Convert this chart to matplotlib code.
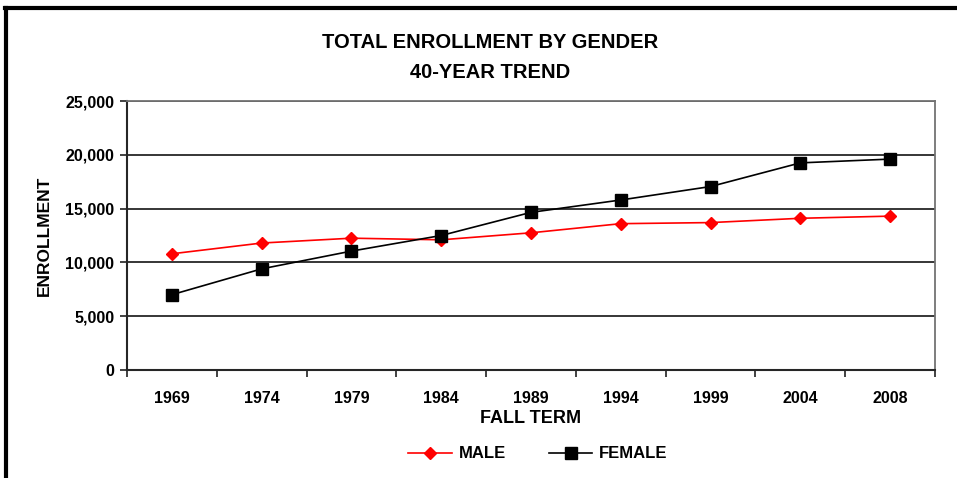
import matplotlib
matplotlib.use("Agg")
import matplotlib.pyplot as plt
from matplotlib.lines import Line2D

plt.rcParams["font.family"] = ["Liberation Sans", "DejaVu Sans"]
plt.rcParams["font.weight"] = "bold"
plt.rcParams["axes.labelweight"] = "bold"

# ---- data
years = ["1969", "1974", "1979", "1984", "1989", "1994", "1999", "2004", "2008"]
male = [10800, 11800, 12250, 12100, 12750, 13600, 13700, 14100, 14300]
female = [7000, 9400, 11050, 12500, 14650, 15800, 17050, 19250, 19600]
yticks = [0, 5000, 10000, 15000, 20000, 25000]

fig = plt.figure(figsize=(9.57, 4.78), dpi=100)
ax = fig.add_axes([127/957, 1-370/478, 808/957, 269/478])

x = range(len(years))
ax.plot(x, male, "-", color="red", lw=1.2, marker="D", ms=6.5, mfc="red", mec="red", label="MALE")
ax.plot(x, female, "-", color="black", lw=1.2, marker="s", ms=8, mfc="black", mec="black", label="FEMALE")

ax.set_xlim(-0.5, len(years)-0.5)
ax.set_ylim(0, 25000)
ax.set_yticks(yticks)
ax.set_yticklabels([f"{v:,}" for v in yticks], fontsize=11.5)
ax.yaxis.grid(True, color="0.15", lw=1.3)
ax.set_axisbelow(True)

# category axis: ticks between categories, labels at centres
ax.set_xticks([i+0.5 for i in range(-1, len(years))])
ax.set_xticklabels([])
ax.set_xticks(list(x), minor=True)
ax.set_xticklabels(years, minor=True, fontsize=11.5)
ax.tick_params(axis="x", which="minor", length=0, pad=15)
ax.tick_params(axis="x", which="major", length=5, width=1.3, color="0.2")
ax.tick_params(axis="y", length=5, width=1.3, color="0.2", pad=4)

for s in ["left", "bottom"]:
    ax.spines[s].set_color("0.15"); ax.spines[s].set_linewidth(1.5)
for s in ["right", "top"]:
    ax.spines[s].set_color("0.45"); ax.spines[s].set_linewidth(1.3)

ax.set_xlabel("FALL TERM", fontsize=13, labelpad=3)
ax.set_ylabel("ENROLLMENT", fontsize=12.5, labelpad=10)

fig.text(490/957, 1-43/478, "TOTAL ENROLLMENT BY GENDER", ha="center", va="center", fontsize=14.5, weight="bold")
fig.text(490/957, 1-72/478, "40-YEAR TREND", ha="center", va="center", fontsize=14.5, weight="bold")

fig.legend(loc="center", bbox_to_anchor=(538/957, 1-454/478), ncol=2, frameon=False,
           fontsize=12, handlelength=2.6, columnspacing=2.6, handletextpad=0.4)

# screenshot frame: thick top and left edges
fig.add_artist(Line2D([5/957, 1], [1-8/478, 1-8/478], color="black", lw=3, transform=fig.transFigure))
fig.add_artist(Line2D([6/957, 6/957], [0, 1-8/478], color="black", lw=3, transform=fig.transFigure))

fig.savefig("out.png", dpi=100)
